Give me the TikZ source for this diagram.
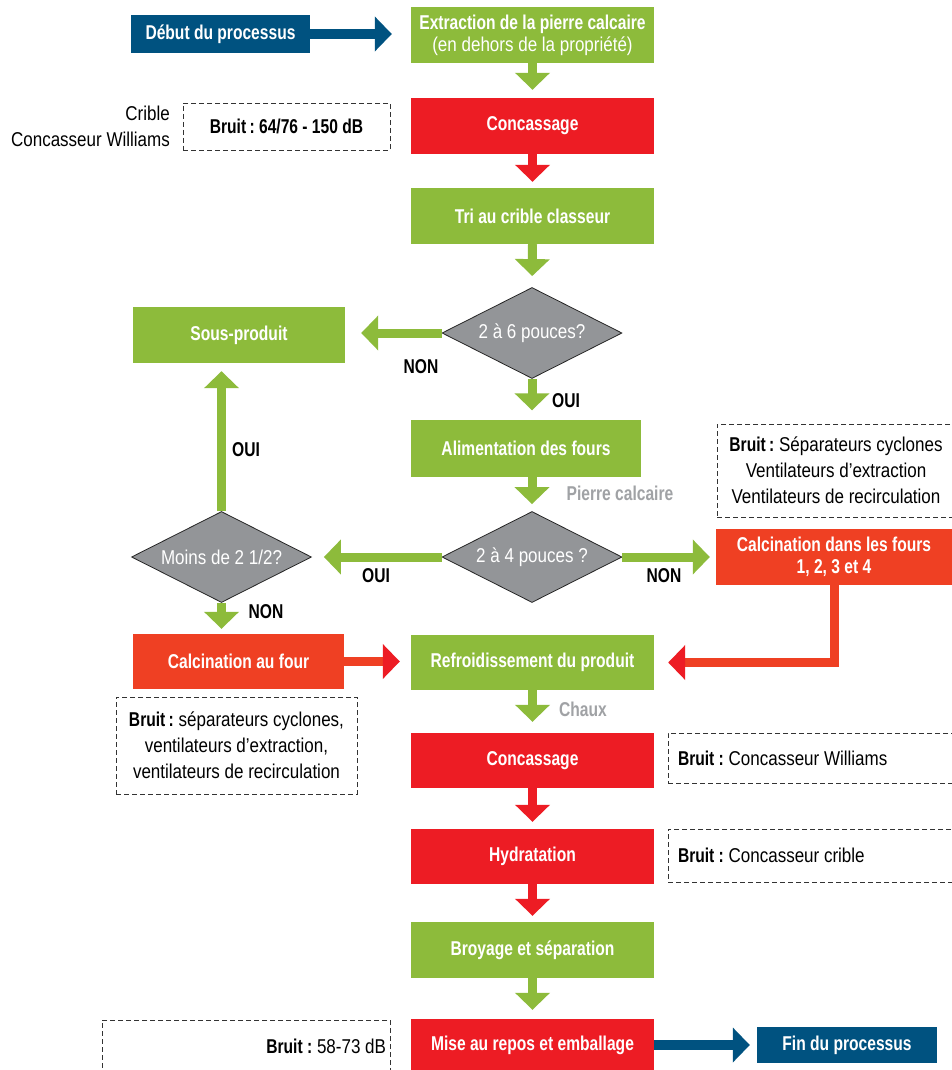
\documentclass[tikz,border=0pt]{standalone}
\usepackage{fontspec}
\setmainfont{Liberation Sans}[FakeStretch=0.85,BoldFeatures={FakeStretch=0.78}]
\usetikzlibrary{arrows.meta,shapes.geometric}
\definecolor{grn}{RGB}{141,187,59}
\definecolor{rd}{RGB}{237,28,36}
\definecolor{org}{RGB}{239,64,35}
\definecolor{blu}{RGB}{0,82,128}
\definecolor{dgray}{RGB}{147,149,152}
\definecolor{lgray}{RGB}{160,162,165}
\begin{document}
\frenchspacing
\begin{tikzpicture}[x=1pt,y=-1pt,
  box/.style={rectangle, inner sep=0pt, minimum height=56pt, minimum width=243pt, text=white,
    font=\fontsize{20}{22}\selectfont\bfseries, align=center},
  gbox/.style={box, fill=grn},
  rbox/.style={box, fill=rd},
  obox/.style={box, fill=org},
  bbox/.style={box, fill=blu, minimum height=38pt, minimum width=179pt},
  diam/.style={diamond, shape aspect=2, draw=black!85, line width=0.8pt, fill=dgray, minimum width=180pt,
    minimum height=91pt, inner sep=0pt, text=white, font=\fontsize{20}{22}\selectfont},
  note/.style={rectangle, draw=black!80, line width=0.9pt, dash pattern=on 5pt off 3pt,
    inner sep=0pt, font=\fontsize{20}{26}\selectfont\frenchspacing},
  lbl/.style={inner sep=0pt, font=\fontsize{20}{22}\selectfont\bfseries},
  glbl/.style={lbl, text=lgray},
  plain/.style={inner sep=0pt, font=\fontsize{20}{26}\selectfont},
  garr/.style={draw=grn, line width=9pt, -{Triangle[width=34pt,length=17pt]}},
  rarr/.style={draw=rd, line width=9pt, -{Triangle[width=34pt,length=17pt]}},
  oarr/.style={draw=org, line width=9pt, -{Triangle[width=34pt,length=17pt,color=rd]}},
  barr/.style={draw=blu, line width=10pt, -{Triangle[width=34pt,length=17pt]}},
  ]
\useasboundingbox (0,0) rectangle (952,1070);
\fill[white] (0,0) rectangle (952,1070);

% main column
\node[bbox] (start) at (220.5,34) {Début du processus};
\node[gbox] (extr) at (532.5,35) {Extraction de la pierre calcaire\\\mdseries(en dehors de la propriété)};
\node[rbox] (conc1) at (532.5,126) {Concassage};
\node[gbox] (tri) at (532.5,216) {Tri au crible classeur};
\node[diam] (d1) at (532,333) {2 à 6 pouces?};
\node[gbox, minimum width=212pt] (sous) at (239,335) {Sous-produit};
\node[gbox, minimum width=230pt, minimum height=57pt] (alim) at (526,448) {Alimentation des fours};
\node[diam] (d2) at (532,557) {2 à 4 pouces ?};
\node[diam] (moins) at (221.5,557) {Moins de 2 1/2?};
\node[obox, minimum width=236pt] (calc4) at (834,557) {Calcination dans les fours\\1, 2, 3 et 4};
\node[obox, minimum width=211pt, minimum height=55pt] (calcf) at (238.5,661.5) {Calcination au four};
\node[gbox, minimum height=55pt] (refr) at (532.5,662.5) {Refroidissement du produit};
\node[rbox, minimum height=55pt] (conc2) at (532.5,760.5) {Concassage};
\node[rbox, minimum height=55pt] (hydr) at (532.5,856.5) {Hydratation};
\node[gbox] (broy) at (532.5,950) {Broyage et séparation};
\node[rbox, minimum height=52pt] (mise) at (532.5,1045) {Mise au repos et emballage};
\node[bbox, minimum height=36pt, minimum width=180pt] (fin) at (847,1045) {Fin du processus};

% notes
\node[plain, anchor=east, align=flush right] (crible) at (170,126) {Crible\\Concasseur Williams};
\node[note, minimum width=207pt, minimum height=47pt, font=\fontsize{20}{26}\selectfont\bfseries] (n1) at (286.5,126.5) {Bruit\,: 64/76 - 150 dB};
\node[note, minimum width=238pt, minimum height=93pt, align=flush center] (n2) at (836,470.5)
  {\textbf{Bruit\,:} Séparateurs cyclones\\Ventilateurs d’extraction\\Ventilateurs de recirculation};
\node[note, minimum width=241pt, minimum height=97pt, align=flush center] (n3) at (236.5,745.5)
  {\textbf{Bruit\,:} séparateurs cyclones,\\ventilateurs d’extraction,\\ventilateurs de recirculation};
\node[note, minimum height=50pt, text width=267pt, inner xsep=10pt, align=flush left] (n4) at (811.5,758)
  {\textbf{Bruit :} Concasseur Williams};
\node[note, minimum height=53pt, text width=267pt, inner xsep=10pt, align=flush left] (n5) at (811.5,855.5)
  {\textbf{Bruit :} Concasseur crible};
\node[note, minimum height=53pt, text width=280pt, inner xsep=4pt, align=flush right] (n6) at (246,1046.5)
  {\textbf{Bruit :} 58-73 dB};

% labels
\node[lbl] (l1) at (421,367) {NON};
\node[lbl] (l2) at (566,401) {OUI};
\node[glbl] (l3) at (620,493) {Pierre calcaire};
\node[lbl] (l4) at (246,450) {OUI};
\node[lbl] (l5) at (376,576) {OUI};
\node[lbl] (l6) at (664,576) {NON};
\node[lbl] (l7) at (266,612) {NON};
\node[glbl] (l8) at (583,709) {Chaux};

% connectors
\draw[barr, shorten >=19pt] (start.east) -- (extr.west |- start.east);
\draw[garr, shorten >=8pt] (extr.south) -- (conc1.north);
\draw[rarr, shorten >=6pt] (conc1.south) -- (tri.north);
\draw[garr, shorten >=11pt] (tri.south) -- (d1.north);
\draw[garr, shorten >=16pt] (d1.west) -- (sous.east |- d1.west);
\draw[garr, shorten >=9pt] (d1.south) -- (alim.north -| d1.south);
\draw[garr, shorten >=7pt] (alim.south -| d2.north) -- (d2.north);
\draw[garr, shorten >=12pt] (d2.west) -- (moins.east);
\draw[garr, shorten >=6pt] (d2.east) -- (calc4.west);
\draw[garr, shorten >=8pt] (moins.north) -- (sous.south -| moins.north);
\draw[garr, shorten >=5pt] (moins.south) -- (calcf.north -| moins.south);
\draw[oarr, shorten >=11pt] (calcf.east) -- (refr.west |- calcf.east);
\draw[oarr, shorten >=14pt] (calc4.south) |- (refr.east);
\draw[garr, shorten >=11pt] (refr.south) -- (conc2.north);
\draw[rarr, shorten >=7pt] (conc2.south) -- (hydr.north);
\draw[rarr, shorten >=6pt] (hydr.south) -- (broy.north);
\draw[garr, shorten >=9pt] (broy.south) -- (mise.north);
\draw[barr, shorten >=7pt] (mise.east) -- (fin.west);
\end{tikzpicture}
\end{document}
